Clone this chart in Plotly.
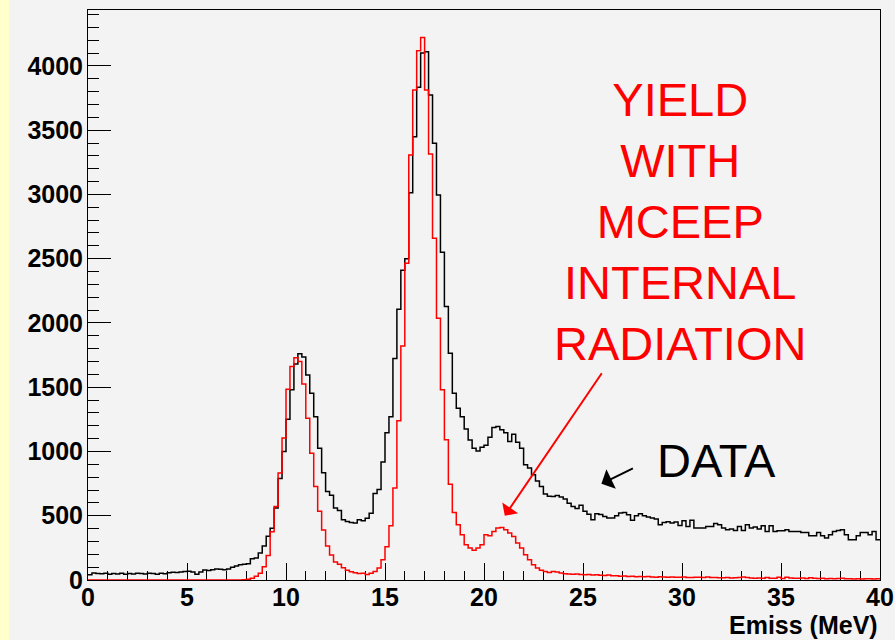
import numpy as np
import plotly.graph_objects as go

# Missing-energy spectrum, 0.2 MeV bins from 0 to 40 MeV
BIN_WIDTH = 0.2
E_MIN, E_MAX = 0.0, 40.0

# Measured yield (counts per bin), 10 bins per row = 2 MeV per row
data_counts = [
    41, 54, 50, 48, 52, 45, 50, 47, 52, 45,            # 0 - 2
    50, 47, 52, 50, 46, 53, 50, 45, 52, 48,            # 2 - 4
    57, 60, 58, 62, 66, 68, 62, 45, 62, 78,            # 4 - 6
    74, 80, 86, 83, 80, 86, 100, 108, 118, 122,        # 6 - 8
    126, 165, 172, 210, 265, 340, 402, 560, 790, 1000,  # 8 - 10
    1250, 1480, 1680, 1760, 1735, 1595, 1454, 1270, 1026, 835,  # 10 - 12
    689, 660, 560, 540, 469, 456, 448, 443, 469, 461,  # 12 - 14
    480, 520, 674, 705, 918, 1145, 1270, 1723, 2107, 2410,  # 14 - 16
    2500, 3014, 3449, 3833, 4100, 4110, 3774, 3398, 2996, 2550,  # 16 - 18
    2128, 1765, 1454, 1337, 1270, 1175, 1090, 1026, 1004, 1032,  # 18 - 20
    1048, 1110, 1186, 1195, 1169, 1145, 1078, 1134, 1072, 1026,  # 20 - 22
    897, 871, 819, 771, 728, 670, 652, 650, 658, 645,  # 22 - 24
    630, 598, 572, 556, 582, 534, 512, 469, 515, 510,  # 24 - 26
    495, 482, 482, 500, 521, 526, 508, 464, 500, 515,  # 26 - 28
    500, 490, 482, 474, 430, 448, 453, 443, 452, 424,  # 28 - 30
    461, 417, 464, 404, 404, 404, 417, 417, 440, 430,  # 30 - 32
    404, 391, 396, 386, 417, 386, 430, 404, 412, 396,  # 32 - 34
    422, 378, 422, 378, 383, 383, 391, 378, 378, 378,  # 34 - 36
    370, 370, 344, 344, 370, 344, 326, 352, 378, 386,  # 36 - 38
    391, 352, 313, 313, 344, 370, 370, 352, 378, 313,  # 38 - 40
]

# MCEEP simulated yield with internal radiation (counts per bin)
mceep_counts = [
    0, 0, 0, 0, 0, 0, 0, 0, 0, 0,                      # 0 - 2
    0, 0, 0, 0, 0, 0, 0, 0, 0, 0,                      # 2 - 4
    0, 0, 0, 0, 0, 0, 0, 0, 0, 0,                      # 4 - 6
    0, 0, 0, 0, 0, 0, 0, 0, 0, 2,                      # 6 - 8
    5, 14, 30, 52, 104, 190, 375, 572, 832, 1104,      # 8 - 10
    1485, 1661, 1730, 1700, 1525, 1259, 987, 728, 534, 390,  # 10 - 12
    264, 195, 140, 122, 95, 75, 64, 56, 50, 52,        # 12 - 14
    42, 52, 66, 93, 158, 258, 422, 715, 1240, 1820,    # 14 - 16
    2465, 3307, 3813, 4118, 4222, 3813, 3315, 2659, 2037, 1480,  # 16 - 18
    1091, 745, 526, 430, 352, 275, 249, 231, 249, 275,  # 18 - 20
    352, 345, 378, 404, 409, 391, 365, 339, 288, 249,  # 20 - 22
    197, 158, 119, 93, 75, 67, 59, 67, 62, 55,         # 22 - 24
    48, 46, 44, 46, 42, 40, 42, 38, 40, 36,            # 24 - 26
    35, 38, 33, 34, 30, 32, 28, 30, 26, 28,            # 26 - 28
    25, 27, 24, 22, 25, 23, 22, 24, 21, 22,            # 28 - 30
    24, 20, 19, 21, 22, 20, 23, 19, 20, 18,            # 30 - 32
    17, 19, 16, 18, 20, 24, 19, 15, 14, 16,            # 32 - 34
    14, 20, 13, 14, 22, 12, 21, 15, 14, 13,            # 34 - 36
    15, 12, 18, 14, 11, 13, 9, 12, 10, 11,             # 36 - 38
    13, 9, 10, 8, 9, 8, 10, 9, 8, 9,                   # 38 - 40
]

Y_MAX = 4435

n_bins = int(round((E_MAX - E_MIN) / BIN_WIDTH))
edges = E_MIN + BIN_WIDTH * np.arange(n_bins + 1)


def step_xy(counts):
    """Bin edges and counts arranged for an 'hv' step line."""
    c = np.asarray(counts, dtype=float)
    return edges, np.append(c, c[-1])


fig = go.Figure()

xd, yd = step_xy(data_counts)
fig.add_trace(go.Scatter(x=xd, y=yd, mode="lines", line_shape="hv",
                         line=dict(color="#000000", width=1.5),
                         name="DATA", hoverinfo="skip"))

xm, ym = step_xy(mceep_counts)
fig.add_trace(go.Scatter(x=xm, y=ym, mode="lines", line_shape="hv",
                         line=dict(color="#ff0000", width=1.5),
                         name="MCEEP", hoverinfo="skip"))

tick_font = dict(family="Liberation Sans, Arial, sans-serif", size=25,
                 color="#000000", weight=700)

fig.update_xaxes(
    range=[E_MIN, E_MAX], tickmode="linear", tick0=0, dtick=5,
    ticks="inside", ticklen=17, tickwidth=1, tickcolor="#000000",
    minor=dict(dtick=1, ticks="inside", ticklen=9, tickwidth=1,
               tickcolor="#000000"),
    showline=True, linecolor="#000000", linewidth=1, mirror=True,
    showgrid=False, zeroline=False, tickfont=tick_font,
    ticklabelstandoff=-5, layer="below traces", automargin=False,
)
fig.update_yaxes(
    range=[0, Y_MAX], tickmode="linear", tick0=0, dtick=500,
    ticks="inside", ticklen=23, tickwidth=1, tickcolor="#000000",
    minor=dict(dtick=100, ticks="inside", ticklen=11, tickwidth=1,
               tickcolor="#000000"),
    showline=True, linecolor="#000000", linewidth=1, mirror=True,
    showgrid=False, zeroline=False, tickfont=tick_font,
    ticklabelstandoff=-1, layer="below traces", automargin=False,
)

label_font = dict(family="Liberation Sans, Arial, sans-serif", size=47)

annotations = [
    # axis title, right-aligned under the x axis
    dict(text="Emiss (MeV)", xref="paper", yref="paper", x=1.0, y=-0.079,
         xanchor="right", yanchor="middle", showarrow=False,
         font=dict(family="Liberation Sans, Arial, sans-serif", size=25,
                   color="#000000", weight=700)),
    # simulation label
    dict(text="YIELD<br>WITH<br>MCEEP<br>INTERNAL<br>RADIATION",
         xref="x", yref="y", x=29.9, y=2790, xanchor="center",
         yanchor="middle", showarrow=False, align="center",
         font=dict(color="#ff0000", **label_font)),
    # arrow pointing at the simulated radiative tail
    dict(text="", xref="x", yref="y", x=21.05, y=500, ax=98, ay=-144,
         showarrow=True, arrowhead=1, arrowsize=1.6, arrowwidth=2,
         arrowcolor="#ff0000"),
    # data label with its arrow
    dict(text="DATA", xref="x", yref="y", x=31.75, y=930, xanchor="center",
         yanchor="middle", showarrow=False,
         font=dict(color="#000000", **label_font)),
    dict(text="", xref="x", yref="y", x=25.93, y=749, ax=33, ay=-16,
         showarrow=True, arrowhead=1, arrowsize=1.8, arrowwidth=2,
         arrowcolor="#000000"),
]

fig.update_layout(
    width=895, height=640,
    margin=dict(l=88, r=15, t=10, b=60, autoexpand=False),
    paper_bgcolor="#f3f3f3", plot_bgcolor="#f3f3f3",
    showlegend=False,
    annotations=annotations,
    shapes=[dict(type="rect", xref="paper", yref="paper",
                 x0=-88 / 792, x1=-79 / 792, y0=-60 / 570, y1=580 / 570,
                 line=dict(width=0), fillcolor="#ffffcc", layer="below")],
)

fig.write_html("out.html")
